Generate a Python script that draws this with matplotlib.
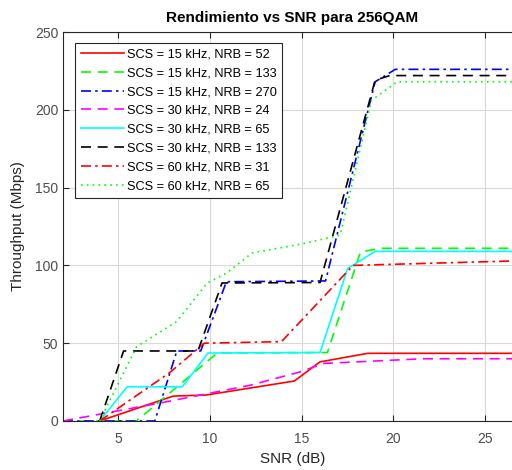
import matplotlib
matplotlib.use('Agg')
import matplotlib.pyplot as plt

plt.rcParams['font.family'] = ['Liberation Sans', 'DejaVu Sans']

# throughput curves (SNR in dB, throughput in Mbps)
snr_15_52 = [4.0, 8.0, 9.8, 14.6, 16.0, 18.6, 27]
thr_15_52 = [0, 16, 16.7, 25.7, 38, 43.5, 43.5]

snr_15_133 = [2, 6.0, 10.4, 16.4, 18.2, 19.3, 27]
thr_15_133 = [0, 0, 43.7, 44, 108.6, 111, 111]

snr_15_270 = [2, 7.0, 8.2, 9.5, 10.9, 16.3, 19.0, 20.1, 27]
thr_15_270 = [0, 0, 45, 45, 89.5, 90, 218, 226, 226]

snr_30_24 = [2, 7.3, 12.2, 14.9, 16.2, 21.6, 27]
thr_30_24 = [0, 11.6, 23, 31.5, 37, 40, 40]

snr_30_65 = [4.0, 5.5, 8.5, 9.9, 16.0, 17.5, 19.0, 27]
thr_30_65 = [0, 22, 22, 43.7, 44, 98, 109, 109]

snr_30_133 = [4.0, 5.3, 9.35, 10.66, 16.0, 19.0, 19.8, 27]
thr_30_133 = [0, 45, 45, 88.7, 89, 219, 222, 222]

snr_60_31 = [4.0, 7.8, 9.7, 13.9, 17.8, 27]
thr_60_31 = [0, 31, 50, 51, 100, 103]

snr_60_65 = [4.0, 6.0, 8.2, 9.85, 10.9, 12.3, 15.1, 17.1, 18.8, 20.2, 27]
thr_60_65 = [0, 47.6, 64, 88.6, 95, 108, 114, 119.5, 206, 218, 218]

dash = (0, (6, 4))
dashdot = (0, (6, 2.5, 1.5, 2.5))
dot = (0, (1, 2.5))

series = [
    (snr_15_52, thr_15_52, '#ff0000', '-', 'SCS = 15 kHz, NRB = 52'),
    (snr_15_133, thr_15_133, '#00ff00', dash, 'SCS = 15 kHz, NRB = 133'),
    (snr_15_270, thr_15_270, '#0000ff', dashdot, 'SCS = 15 kHz, NRB = 270'),
    (snr_30_24, thr_30_24, '#ff00ff', dash, 'SCS = 30 kHz, NRB = 24'),
    (snr_30_65, thr_30_65, '#00ffff', '-', 'SCS = 30 kHz, NRB = 65'),
    (snr_30_133, thr_30_133, '#000000', dash, 'SCS = 30 kHz, NRB = 133'),
    (snr_60_31, thr_60_31, '#ff0000', dashdot, 'SCS = 60 kHz, NRB = 31'),
    (snr_60_65, thr_60_65, '#00ff00', dot, 'SCS = 60 kHz, NRB = 65'),
]

fig = plt.figure(figsize=(5.12, 4.7), dpi=100)
ax = fig.add_axes([63 / 512, 49 / 470, 459 / 512, 389 / 470])

for x, y, c, ls, lab in series:
    ax.plot(x, y, color=c, linestyle=ls, lw=1.2, label=lab)

ax.set_xlim(2, 27)
ax.set_ylim(0, 250)
ax.set_xticks([5, 10, 15, 20, 25])
ax.set_yticks([0, 50, 100, 150, 200, 250])
ax.grid(True, color='#d9d9d9', lw=0.8)
ax.set_axisbelow(True)
ax.tick_params(direction='in', top=True, right=True, labelsize=10,
               colors='#262626', labelcolor='#4d4d4d', length=4)
ax.tick_params(axis='x', pad=8)
for s in ax.spines.values():
    s.set_color('#262626')
    s.set_linewidth(0.8)

ax.set_title('Rendimiento vs SNR para 256QAM', fontsize=11, fontweight='bold', pad=7)
ax.set_xlabel('SNR (dB)', fontsize=11, color='#262626', labelpad=4)
ax.set_ylabel('Throughput (Mbps)', fontsize=11, color='#262626', labelpad=7)

leg = ax.legend(loc='upper left', bbox_to_anchor=(0.026, 0.972), fontsize=9.2,
                labelspacing=0.53, handlelength=3.4, handletextpad=0.2,
                borderpad=0.45, borderaxespad=0, fancybox=False, framealpha=1,
                edgecolor='#262626')
leg.get_frame().set_linewidth(0.8)

fig.savefig('out.png', dpi=100)
